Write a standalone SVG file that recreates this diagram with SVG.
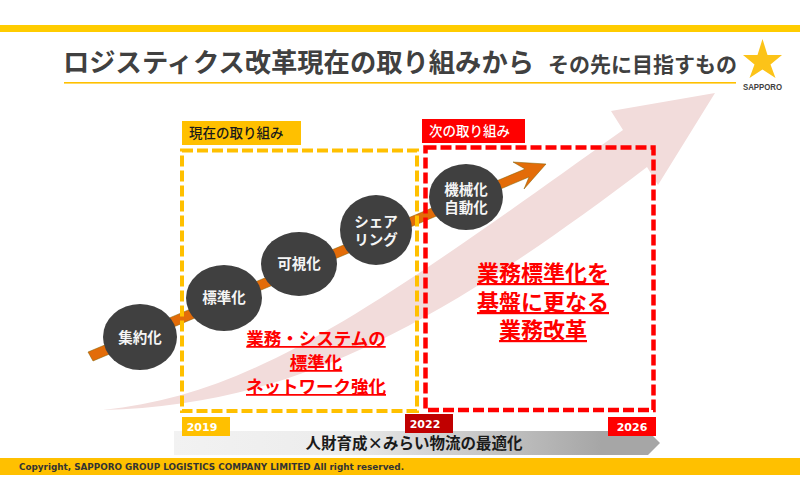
<svg xmlns="http://www.w3.org/2000/svg" width="800" height="501" viewBox="0 0 800 501">
<defs>
<linearGradient id="g" x1="0" x2="1" y1="0" y2="0"><stop offset="0" stop-color="#f2f2f2"/><stop offset="0.35" stop-color="#ececec"/><stop offset="0.88" stop-color="#a6a6a6"/><stop offset="1" stop-color="#a6a6a6"/></linearGradient>
</defs>
<style>
text{font-family:"Liberation Sans","Noto Sans CJK JP",sans-serif}
.c{fill:#404040}
.n{fill:#f5f5f5;font-size:14.500px;font-weight:700;text-anchor:middle}
.r{fill:#ff0000;font-weight:700;text-anchor:middle;text-decoration:underline}
.y{fill:#fff;font-family:"DejaVu Sans",sans-serif;font-size:11px;font-weight:700;text-anchor:middle}
.l{font-size:13.500px;font-weight:500}
</style>
<rect width="800" height="501" fill="#fff"/>
<rect id="top-bar" x="0" y="25" width="800" height="7" fill="#ffcc00"/>
<g id="title">
<text x="63" y="72" font-size="26.300" font-weight="700" fill="#404040">ロジスティクス改革現在の取り組みから</text>
<text x="548" y="72" font-size="21" font-weight="700" fill="#404040">その先に目指すもの</text>
<rect x="64" y="82" width="672" height="1.600" fill="#ffc000"/>
</g>
<g id="logo">
<polygon points="762.500,39 767.500,55 782,55 770.500,64.500 775.500,78 762.500,69.500 749.500,78 754.500,64.500 743,55 757.500,55" fill="#fcc318"/>
<text x="762.500" y="89.500" font-size="9" font-weight="700" fill="#404040" text-anchor="middle" style="font-family:'Liberation Sans',sans-serif" textLength="39" lengthAdjust="spacingAndGlyphs">SAPPORO</text>
</g>
<g id="connectors">
<path id="big-arrow" d="M103 410C250 395 365 315 623 130L611 111L715 93L658 185L647 167C420 340 280 405 103 410Z" fill="#f2dcdb"/>
<path id="orange-arrow" d="M88 352L525 169L513 162L546 164L524 189L529 177L93 361Z" fill="#e36c09" stroke="#7f6000" stroke-width="0.5"/>
</g>
<g id="current-box">
<rect x="182" y="150.500" width="235" height="260.500" fill="none" stroke="#ffc000" stroke-width="4" stroke-dasharray="11 4"/>
<rect x="182" y="121" width="119" height="24" fill="#ffc000"/>
<text class="l" x="189" y="138" fill="#1a1a1a">現在の取り組み</text>
</g>
<g id="next-box">
<rect x="425.500" y="147.500" width="228" height="262.500" fill="none" stroke="#ff0000" stroke-width="4.500" stroke-dasharray="11 4"/>
<rect x="422" y="119" width="103" height="24" fill="#ff0000"/>
<text class="l" x="429" y="136" fill="#fff">次の取り組み</text>
</g>
<g id="n1"><ellipse cx="140" cy="337" rx="37" ry="33" class="c"/><text class="n" x="140" y="343">集約化</text></g>
<g id="n2"><ellipse cx="224" cy="298" rx="38" ry="33" class="c"/><text class="n" x="224" y="303">標準化</text></g>
<g id="n3"><ellipse cx="299" cy="264" rx="38" ry="32" class="c"/><text class="n" x="299" y="269">可視化</text></g>
<g id="n4"><ellipse cx="376" cy="230" rx="36" ry="35" class="c"/><text class="n"><tspan x="376" y="227">シェア</tspan><tspan x="376" y="245">リング</tspan></text></g>
<g id="n5"><ellipse cx="466" cy="197" rx="37" ry="33" class="c"/><text class="n"><tspan x="466" y="195">機械化</tspan><tspan x="466" y="213">自動化</tspan></text></g>
<g id="left-note">
<text class="r" font-size="17.500"><tspan x="316" y="345">業務・システムの</tspan><tspan x="316" y="369">標準化</tspan><tspan x="316" y="393">ネットワーク強化</tspan></text>
</g>
<g id="right-note">
<text class="r" font-size="22"><tspan x="543" y="281">業務標準化を</tspan><tspan x="543" y="310">基盤に更なる</tspan><tspan x="543" y="338">業務改革</tspan></text>
</g>
<g id="timeline">
<polygon points="174,431 648,431 660,443 648,455 174,455" fill="url(#g)"/>
<text x="414" y="449" font-size="15.500" font-weight="700" fill="#1a1a1a" text-anchor="middle" style="font-family:'Noto Sans CJK JP',sans-serif">人財育成×みらい物流の最適化</text>
<rect x="182" y="417" width="48" height="19" fill="#ffc000"/>
<text class="y" x="202" y="431">2019</text>
<rect x="405" y="414" width="48" height="19" fill="#c00000"/>
<text class="y" x="425" y="428">2022</text>
<rect x="608" y="417" width="48" height="19" fill="#ff0000"/>
<text class="y" x="632" y="431">2026</text>
</g>
<g id="footer">
<rect x="0" y="458" width="800" height="17" fill="#ffc000"/>
<text x="19" y="470" font-size="8.500" font-weight="700" fill="#333" style="font-family:'DejaVu Sans',sans-serif" textLength="385" lengthAdjust="spacingAndGlyphs">Copyright, SAPPORO GROUP LOGISTICS COMPANY LIMITED All right reserved.</text>
</g>
</svg>
